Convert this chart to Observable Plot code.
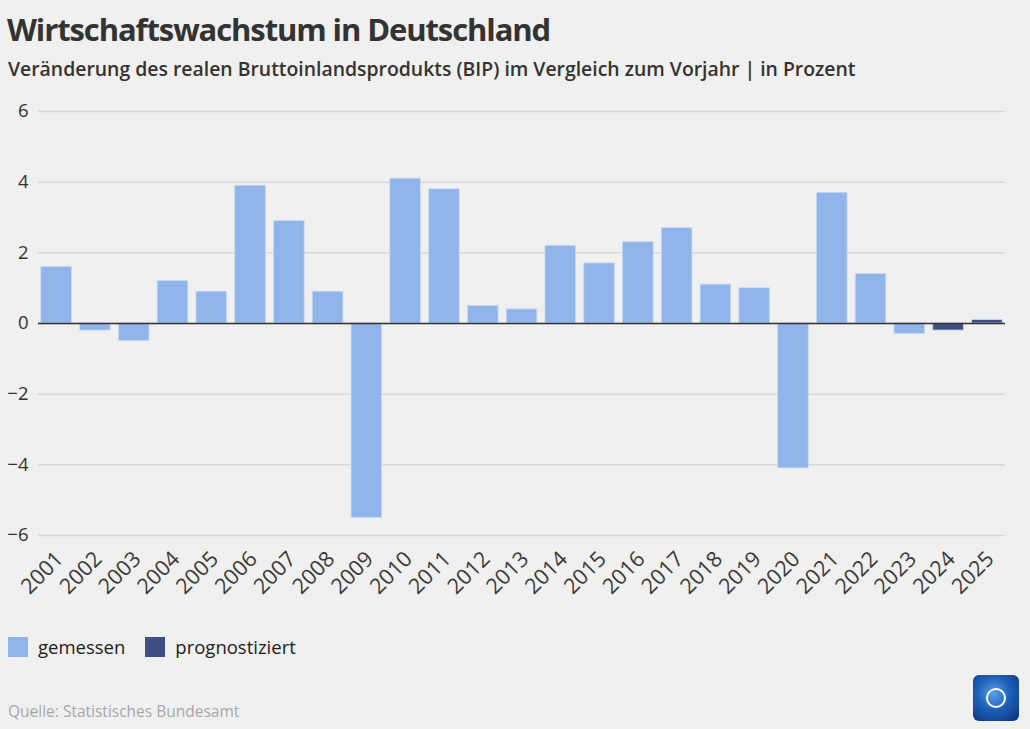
<!DOCTYPE html>
<html>
<head>
<meta charset="utf-8">
<script src="https://cdn.jsdelivr.net/npm/d3@7"></script>
<script src="https://cdn.jsdelivr.net/npm/@observablehq/plot@0.6"></script>
<style>
  html, body { margin:0; padding:0; background:#f0f0f0; width:1030px; height:729px; overflow:hidden; }
  body { position:relative; font-family:"Open Sans", sans-serif; color:#333; }
  #title { position:absolute; left:7px; top:8px; font-size:31px; font-weight:700; color:#333; letter-spacing:-1.1px; white-space:nowrap; }
  #subtitle { position:absolute; left:8px; top:55px; font-size:19.4px; font-weight:600; color:#333; letter-spacing:0px; white-space:nowrap; }
  #chart { position:absolute; left:0; top:90px; }
  #legend { position:absolute; left:8px; top:634px; font-size:18.5px; color:#222; display:flex; align-items:center; }
  #legend .sw { width:20px; height:20px; display:inline-block; margin-right:10px; }
  #legend .item { display:flex; align-items:center; margin-right:20px; }
  #caption { position:absolute; left:8px; top:700px; font-size:15.5px; color:#a8a8a8; }
  #logo { position:absolute; left:973px; top:675px; width:46px; height:46px; border-radius:6px;
          background:radial-gradient(circle at 45% 40%, #5aa0e6 0%, #1d5fb8 45%, #0b2f78 100%); }
  #logo .ring { position:absolute; left:13px; top:13px; width:16px; height:16px; border:2.5px solid #fff; border-radius:50%; }
</style>
</head>
<body>
<div id="title">Wirtschaftswachstum in Deutschland</div>
<div id="subtitle">Veränderung des realen Bruttoinlandsprodukts (BIP) im Vergleich zum Vorjahr | in Prozent</div>
<div id="chart"></div>
<div id="legend"></div>
<div id="caption">Quelle: Statistisches Bundesamt</div>
<div id="logo"><div class="ring"></div></div>
<script>
const years = ["2001","2002","2003","2004","2005","2006","2007","2008","2009","2010","2011","2012","2013","2014","2015","2016","2017","2018","2019","2020","2021","2022","2023","2024","2025"];
const growth = [1.6,-0.2,-0.5,1.2,0.9,3.9,2.9,0.9,-5.5,4.1,3.8,0.5,0.4,2.2,1.7,2.3,2.7,1.1,1.0,-4.1,3.7,1.4,-0.3,-0.2,0.1];
const status = ["gemessen","gemessen","gemessen","gemessen","gemessen","gemessen","gemessen","gemessen","gemessen","gemessen","gemessen","gemessen","gemessen","gemessen","gemessen","gemessen","gemessen","gemessen","gemessen","gemessen","gemessen","gemessen","gemessen","prognostiziert","prognostiziert"];
const seriesNames = ["gemessen","prognostiziert"];
const seriesColors = ["#91b4ea","#3f4f85"];
const yTicks = [-6,-4,-2,0,2,4,6];

const data = years.map((y,i) => ({year:y, value:growth[i], status:status[i]}));

const chart = Plot.plot({
  width: 1030,
  height: 515,
  marginLeft: 38,
  marginRight: 25,
  marginTop: 21,
  marginBottom: 70,
  style: {background:"transparent", fontFamily:"'Open Sans', sans-serif", fontSize:"18px", color:"#333"},
  x: {domain: years, paddingInner: 0.21, paddingOuter: 0.073, round: false, label: null},
  y: {domain: [-6,6], ticks: yTicks, label: null},
  color: {domain: seriesNames, range: seriesColors},
  marks: [
    Plot.gridY(yTicks, {stroke:"#d8d8d8", strokeOpacity:1, strokeWidth:1.5}),
    Plot.barY(data, {x:"year", y:"value", fill:"status", stroke:"#c9dbf5", strokeWidth:0.8}),
    Plot.ruleY([0], {stroke:"#333", strokeWidth:1.6}),
    Plot.axisY(yTicks, {tickSize:0, tickPadding:10, fontSize:18.5, tickFormat: d => String(d).replace("-", "\u2212")}),
    Plot.axisX({tickRotate:-45, tickSize:0, tickPadding:20, dx:3, fontSize:21.5, fill:"#3a3a3a"})
  ]
});
document.getElementById("chart").appendChild(chart);

const legend = document.getElementById("legend");
seriesNames.forEach((n,i) => {
  const item = document.createElement("div");
  item.className = "item";
  const sw = document.createElement("span");
  sw.className = "sw";
  sw.style.background = seriesColors[i];
  const t = document.createElement("span");
  t.textContent = n;
  item.appendChild(sw); item.appendChild(t);
  legend.appendChild(item);
});
</script>
</body>
</html>
